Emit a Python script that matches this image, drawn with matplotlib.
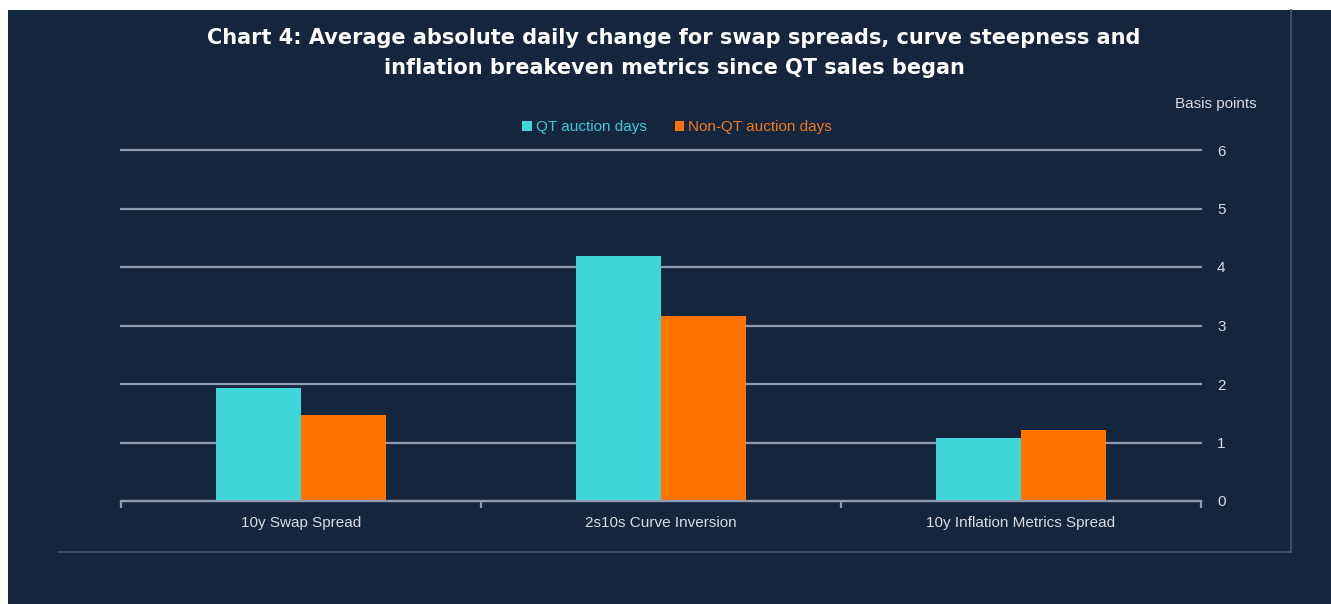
#!/usr/bin/env python3
"""
Chart 4 replica: average absolute daily change for swap spreads, curve
steepness and inflation breakeven metrics since QT sales began.
"""

import numpy as np
import matplotlib
matplotlib.use("Agg")
import matplotlib.pyplot as plt
from matplotlib.lines import Line2D
from matplotlib.patches import Rectangle

# ── Data ──────────────────────────────────────────────────────────────────────
CATEGORIES = ["10y Swap Spread", "2s10s Curve Inversion", "10y Inflation Metrics Spread"]
QT_DAYS = [1.93, 4.18, 1.08]
NON_QT_DAYS = [1.47, 3.17, 1.22]
Y_TICKS = [0, 1, 2, 3, 4, 5, 6]

# ── Style ─────────────────────────────────────────────────────────────────────
BG = "#14253e"
CYAN = "#3ed6d9"
ORANGE = "#ff7300"
GRID = "#8f9cb0"
TEXT = "#d8dce3"
FRAME = "#46576e"

W, H = 1331, 604
plt.rcParams["font.family"] = ["Liberation Sans", "DejaVu Sans"]

fig = plt.figure(figsize=(W / 100, H / 100), dpi=100, facecolor=BG)
ax = fig.add_axes([121 / W, 1 - 501 / H, (1201 - 121) / W, (501 - 150) / H])
ax.set_facecolor(BG)

x = np.arange(len(CATEGORIES))
bw = 85 / 360
ax.bar(x - bw / 2, QT_DAYS, width=bw, color=CYAN, zorder=3, label="QT auction days")
ax.bar(x + bw / 2, NON_QT_DAYS, width=bw, color=ORANGE, zorder=3, label="Non-QT auction days")

ax.set_xlim(-0.5, len(CATEGORIES) - 0.5)
ax.set_ylim(0, 6)

# y axis on the right, labels only
ax.yaxis.tick_right()
ax.set_yticks(Y_TICKS)
ax.tick_params(axis="y", length=0, pad=11.5, labelsize=11, labelcolor=TEXT)
ax.grid(axis="y", color=GRID, linewidth=1.6, zorder=1)
for gl in ax.get_ygridlines():
    gl.set_clip_on(False)

# x axis: boundary ticks, labels centred in each category
ax.set_xticks(np.arange(-0.5, len(CATEGORIES), 1.0))
ax.set_xticklabels([])
ax.set_xticks(x, minor=True)
ax.set_xticklabels(CATEGORIES, minor=True)
ax.tick_params(axis="x", which="major", length=5, width=1.6, color=GRID, direction="out")
ax.tick_params(axis="x", which="minor", length=0, pad=11, labelsize=11, labelcolor=TEXT)

for s in ["top", "left", "right"]:
    ax.spines[s].set_visible(False)
ax.spines["bottom"].set_color(GRID)
ax.spines["bottom"].set_linewidth(1.6)
ax.spines["bottom"].set_zorder(4)

# legend above plot, text coloured like the series
leg = ax.legend(loc="lower center", bbox_to_anchor=(0.515, 1.005), ncol=2, frameon=False,
                fontsize=11, handlelength=0.6, handleheight=0.6, handletextpad=0.3,
                columnspacing=1.8)
for txt, col in zip(leg.get_texts(), ["#3ccbd0", "#f07a1a"]):
    txt.set_color(col)

# title (wider bold face to match the original's spread-out lettering)
title_kw = dict(ha="center", va="center", fontsize=15, fontweight="bold", color="white",
                family=["DejaVu Sans"])
fig.text(674 / W, 1 - 38 / H,
         "Chart 4: Average absolute daily change for swap spreads, curve steepness and", **title_kw)
fig.text(674 / W, 1 - 68 / H, "inflation breakeven metrics since QT sales began", **title_kw)
fig.text(1257 / W, 1 - 104 / H, "Basis points", ha="right", va="center", fontsize=11, color=TEXT)

# outer frame lines and white border strips
fig.add_artist(Line2D([1291 / W, 1291 / W], [1 - 10 / H, 1 - 552 / H], color=FRAME, lw=1.2))
fig.add_artist(Line2D([58 / W, 1291 / W], [1 - 552 / H, 1 - 552 / H], color=FRAME, lw=1.2))
fig.add_artist(Rectangle((0, 1 - 10 / H), 1, 10 / H, transform=fig.transFigure,
                         facecolor="white", edgecolor="none"))
fig.add_artist(Rectangle((0, 0), 8 / W, 1, transform=fig.transFigure,
                         facecolor="white", edgecolor="none"))

fig.savefig("out.png", dpi=100, facecolor=BG)
